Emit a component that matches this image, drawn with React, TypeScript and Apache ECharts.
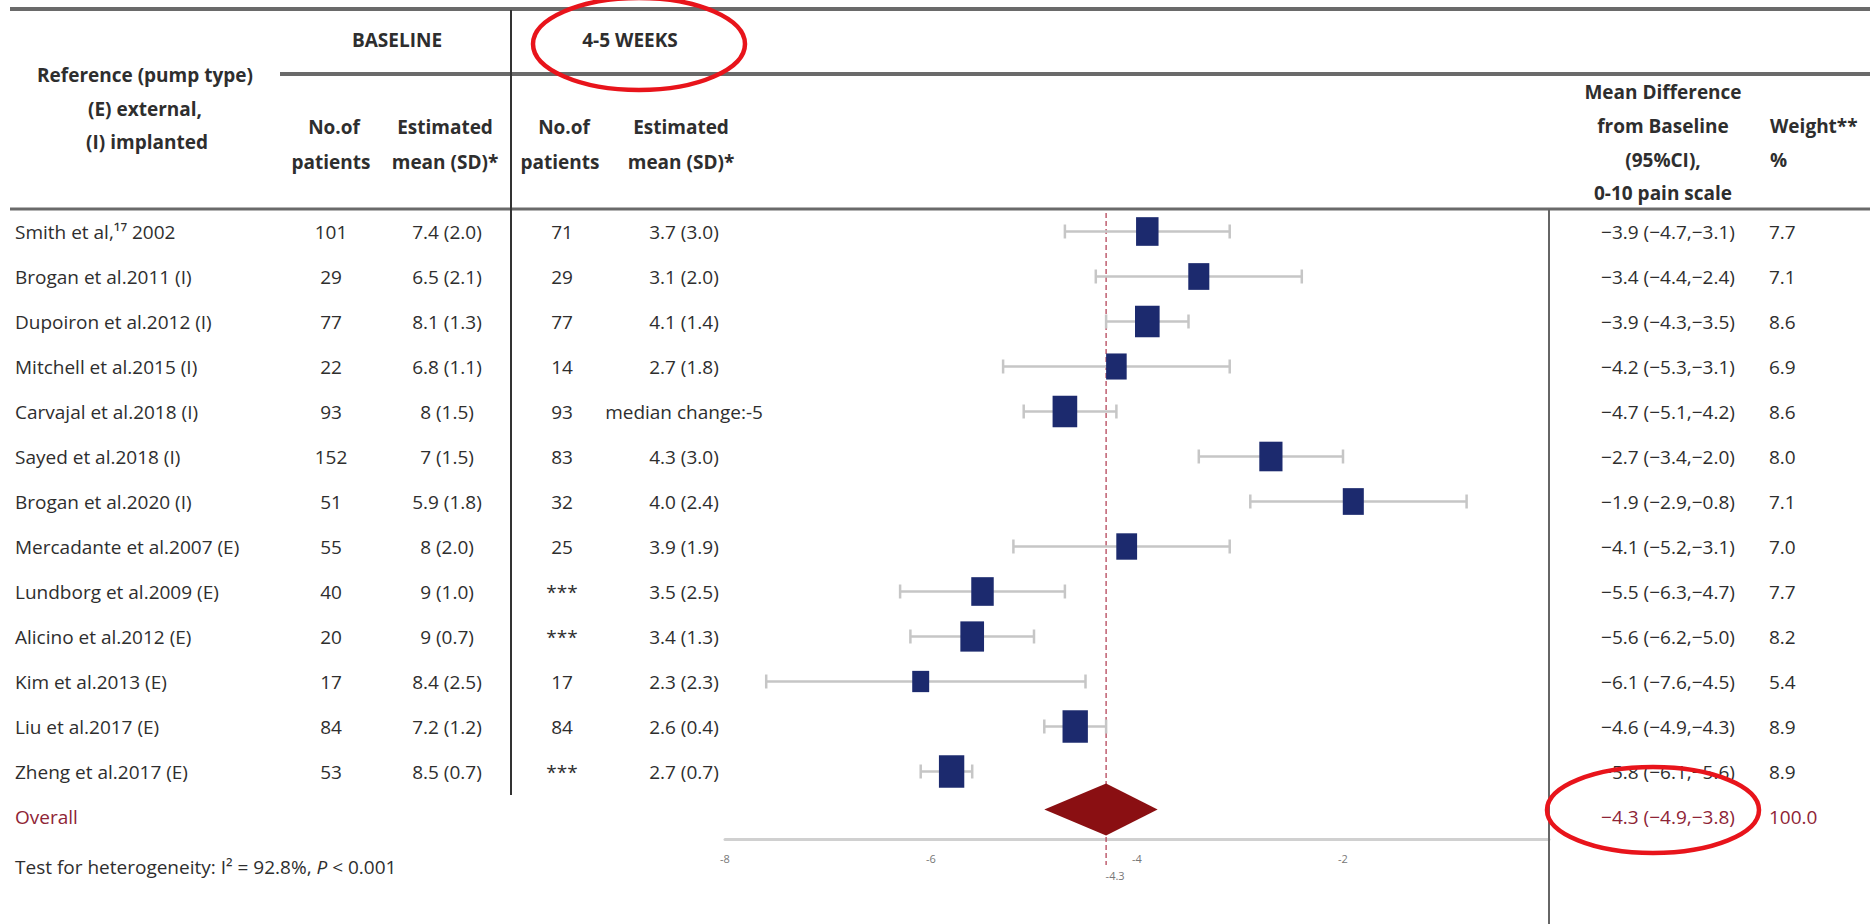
import React, { useEffect, useRef } from "react";
import * as echarts from "echarts";

// ---------- data ----------
const studies = [
  "Smith et al,\u00B9\u2077 2002",
  "Brogan et al.2011 (I)",
  "Dupoiron et al.2012 (I)",
  "Mitchell et al.2015 (I)",
  "Carvajal et al.2018 (I)",
  "Sayed et al.2018 (I)",
  "Brogan et al.2020 (I)",
  "Mercadante et al.2007 (E)",
  "Lundborg et al.2009 (E)",
  "Alicino et al.2012 (E)",
  "Kim et al.2013 (E)",
  "Liu et al.2017 (E)",
  "Zheng et al.2017 (E)",
];
const baselineN = ["101", "29", "77", "22", "93", "152", "51", "55", "40", "20", "17", "84", "53"];
const baselineMean = ["7.4 (2.0)", "6.5 (2.1)", "8.1 (1.3)", "6.8 (1.1)", "8 (1.5)", "7 (1.5)", "5.9 (1.8)", "8 (2.0)", "9 (1.0)", "9 (0.7)", "8.4 (2.5)", "7.2 (1.2)", "8.5 (0.7)"];
const weekN = ["71", "29", "77", "14", "93", "83", "32", "25", "***", "***", "17", "84", "***"];
const weekMean = ["3.7 (3.0)", "3.1 (2.0)", "4.1 (1.4)", "2.7 (1.8)", "median change:-5", "4.3 (3.0)", "4.0 (2.4)", "3.9 (1.9)", "3.5 (2.5)", "3.4 (1.3)", "2.3 (2.3)", "2.6 (0.4)", "2.7 (0.7)"];
const meanDiff = [-3.9, -3.4, -3.9, -4.2, -4.7, -2.7, -1.9, -4.1, -5.5, -5.6, -6.1, -4.6, -5.8];
const ciLow = [-4.7, -4.4, -4.3, -5.3, -5.1, -3.4, -2.9, -5.2, -6.3, -6.2, -7.6, -4.9, -6.1];
const ciHigh = [-3.1, -2.4, -3.5, -3.1, -4.2, -2.0, -0.8, -3.1, -4.7, -5.0, -4.5, -4.3, -5.6];
const weights = [7.7, 7.1, 8.6, 6.9, 8.6, 8.0, 7.1, 7.0, 7.7, 8.2, 5.4, 8.9, 8.9];

const overallLabel = "Overall";
const overallMd = -4.3;
const overallLow = -4.9;
const overallHigh = -3.8;
const overallWeight = 100.0;

const heterogeneityI2 = "92.8%";
const heterogeneityP = "< 0.001";

const xMin = -8;
const xMax = 0;
const xStep = 2;

// ---------- styling ----------
const FONT = "'Liberation Sans Narrow', 'Open Sans', sans-serif";
const TEXT = "#2e2e2e";
const RED_TXT = "#8e2436";
const FS = 19;

function fmt(v: number) {
  return v.toFixed(1).replace(/-/g, "\u2212");
}

function txt(x: number, y: number, text: string, opts: any = {}) {
  const align = opts.align || "center";
  return {
    type: "text",
    x,
    y,
    z: opts.z,
    style: {
      text,
      fontSize: opts.fontSize || FS,
      fontFamily: FONT,
      fontWeight: opts.bold ? "bold" : "normal",
      fill: opts.fill || TEXT,
      align,
      textAlign: align,
      verticalAlign: "middle",
      textVerticalAlign: "middle",
      rich: opts.rich,
    },
  };
}

export default function App() {
  const ref = useRef<HTMLDivElement>(null);

  useEffect(() => {
    document.body.style.margin = "0";
    document.body.style.overflow = "hidden";
    const chart = echarts.init(ref.current!, null, { renderer: "svg" });
    const cats = [...studies, overallLabel];
    const nStudies = studies.length;

    const line = (x1: number, y1: number, x2: number, y2: number, stroke: string, lineWidth: number) => ({
      type: "line",
      shape: { x1, y1, x2, y2 },
      style: { stroke, lineWidth },
      z: 10,
    });

    const header: any[] = [
      line(10, 9, 1870, 9, "#6a6a6a", 4),
      line(280, 74, 1870, 74, "#6a6a6a", 4),
      line(10, 209, 1870, 209, "#6a6a6a", 3),
      line(511, 10, 511, 795, "#333", 2),
      line(1549, 209, 1549, 924, "#666", 2),
      txt(397, 40, "BASELINE", { bold: true }),
      txt(630, 40, "4-5 WEEKS", { bold: true }),
      txt(145, 75, "Reference (pump type)", { bold: true }),
      txt(145, 109, "(E) external,", { bold: true }),
      txt(147, 142, "(I) implanted", { bold: true }),
      txt(334, 127, "No.of", { bold: true }),
      txt(331, 162, "patients", { bold: true }),
      txt(445, 127, "Estimated", { bold: true }),
      txt(445, 162, "mean (SD)*", { bold: true }),
      txt(564, 127, "No.of", { bold: true }),
      txt(560, 162, "patients", { bold: true }),
      txt(681, 127, "Estimated", { bold: true }),
      txt(681, 162, "mean (SD)*", { bold: true }),
      txt(1663, 92, "Mean Difference", { bold: true }),
      txt(1663, 126, "from Baseline", { bold: true }),
      txt(1663, 160, "(95%CI),", { bold: true }),
      txt(1663, 193, "0-10 pain scale", { bold: true }),
      txt(1770, 126, "Weight**", { bold: true, align: "left" }),
      txt(1770, 160, "%", { bold: true, align: "left" }),
      {
        type: "ellipse",
        shape: { cx: 639, cy: 44, rx: 106, ry: 46 },
        style: { fill: "none", stroke: "#e8141b", lineWidth: 4.5 },
        z: 20,
      },
      {
        type: "ellipse",
        shape: { cx: 1653, cy: 810, rx: 106, ry: 43 },
        style: { fill: "none", stroke: "#e8141b", lineWidth: 4.5 },
        z: 20,
      },
    ];

    const option: any = {
      animation: false,
      backgroundColor: "#ffffff",
      grid: { left: 725, top: 209, width: 824, height: 630, containLabel: false },
      xAxis: {
        type: "value",
        min: xMin,
        max: xMax,
        interval: xStep,
        axisLine: { show: true, onZero: false, lineStyle: { color: "#d0d0d0", width: 3 } },
        axisTick: { show: false },
        splitLine: { show: false },
        axisLabel: {
          formatter: (v: number) => (v === xMax ? "" : String(v)),
          color: "#777",
          fontSize: 11,
          fontFamily: FONT,
          margin: 14,
        },
      },
      yAxis: { type: "category", data: cats, inverse: true, show: false },
      graphic: header,
      series: [
        {
          type: "custom",
          name: "refline",
          clip: false,
          z: 2,
          data: [[overallMd, 0]],
          encode: { x: 0, y: 1 },
          renderItem: (params: any, api: any) => {
            const band = api.size([0, 1])[1];
            const p = api.coord([api.value(0), 0]);
            const top = p[1] - band / 2 + 4;
            const bottom = api.coord([api.value(0), nStudies])[1] + band / 2 + 26;
            return {
              type: "group",
              children: [
                {
                  type: "line",
                  shape: { x1: p[0], y1: top, x2: p[0], y2: bottom },
                  style: { stroke: "#b5465a", lineWidth: 1.3, lineDash: [5, 3] },
                },
                txt(p[0] + 9, bottom + 10, String(api.value(0)), { fontSize: 11, fill: "#777" }),
              ],
            };
          },
        },
        {
          type: "custom",
          name: "studies",
          clip: false,
          z: 3,
          data: studies.map((_, i) => [meanDiff[i], ciLow[i], ciHigh[i], weights[i], i]),
          encode: { x: [0, 1, 2], y: 4 },
          renderItem: (params: any, api: any) => {
            const row = api.value(4);
            const c = api.coord([api.value(0), row]);
            const xl = api.coord([api.value(1), row])[0];
            const xh = api.coord([api.value(2), row])[0];
            const w = api.value(3);
            const bw = 2.4 * w + 4;
            const bh = 3.2 * w + 4;
            const ls = { stroke: "#c6c6c6", lineWidth: 2.5 };
            return {
              type: "group",
              children: [
                { type: "line", shape: { x1: xl, y1: c[1], x2: xh, y2: c[1] }, style: ls },
                { type: "line", shape: { x1: xl, y1: c[1] - 7, x2: xl, y2: c[1] + 7 }, style: ls },
                { type: "line", shape: { x1: xh, y1: c[1] - 7, x2: xh, y2: c[1] + 7 }, style: ls },
                {
                  type: "rect",
                  shape: { x: c[0] - bw / 2, y: c[1] - bh / 2, width: bw, height: bh },
                  style: { fill: "#1c2a6e" },
                },
              ],
            };
          },
        },
        {
          type: "custom",
          name: "overall",
          clip: false,
          z: 3,
          data: [[overallMd, overallLow, overallHigh, nStudies]],
          encode: { x: [0, 1, 2], y: 3 },
          renderItem: (params: any, api: any) => {
            const row = api.value(3);
            const c = api.coord([api.value(0), row]);
            const xl = api.coord([api.value(1), row])[0];
            const xh = api.coord([api.value(2), row])[0];
            const cy = c[1] - 7;
            const hh = 26;
            return {
              type: "polygon",
              shape: { points: [[xl, cy], [c[0], cy - hh], [xh, cy], [c[0], cy + hh]] },
              style: { fill: "#8a0f12" },
            };
          },
        },
        {
          type: "custom",
          name: "table",
          clip: false,
          z: 4,
          data: cats.map((_, i) => [xMin, i]),
          encode: { x: 0, y: 1 },
          renderItem: (params: any, api: any) => {
            const i = params.dataIndex;
            const y = api.coord([xMin, api.value(1)])[1];
            if (i < nStudies) {
              return {
                type: "group",
                children: [
                  txt(15, y, studies[i], { align: "left" }),
                  txt(331, y, baselineN[i]),
                  txt(447, y, baselineMean[i]),
                  txt(562, y, weekN[i]),
                  txt(684, y, weekMean[i]),
                  txt(1668, y, `${fmt(meanDiff[i])} (${fmt(ciLow[i])},${fmt(ciHigh[i])})`),
                  txt(1769, y, weights[i].toFixed(1), { align: "left" }),
                ],
              };
            }
            return {
              type: "group",
              children: [
                txt(15, y, overallLabel, { align: "left", fill: RED_TXT }),
                txt(1668, y, `${fmt(overallMd)} (${fmt(overallLow)},${fmt(overallHigh)})`, { fill: RED_TXT }),
                txt(1769, y, overallWeight.toFixed(1), { align: "left", fill: RED_TXT }),
                txt(15, y + 50, `Test for heterogeneity: I\u00B2 = ${heterogeneityI2}, {i|P} ${heterogeneityP}`, {
                  align: "left",
                  rich: {
                    i: { fontStyle: "italic", fontSize: FS, fontFamily: FONT, fill: TEXT, color: TEXT },
                  },
                }),
              ],
            };
          },
        },
      ],
    };

    chart.setOption(option);
    return () => chart.dispose();
  }, []);

  return <div ref={ref} style={{ width: 1874, height: 924 }} />;
}
